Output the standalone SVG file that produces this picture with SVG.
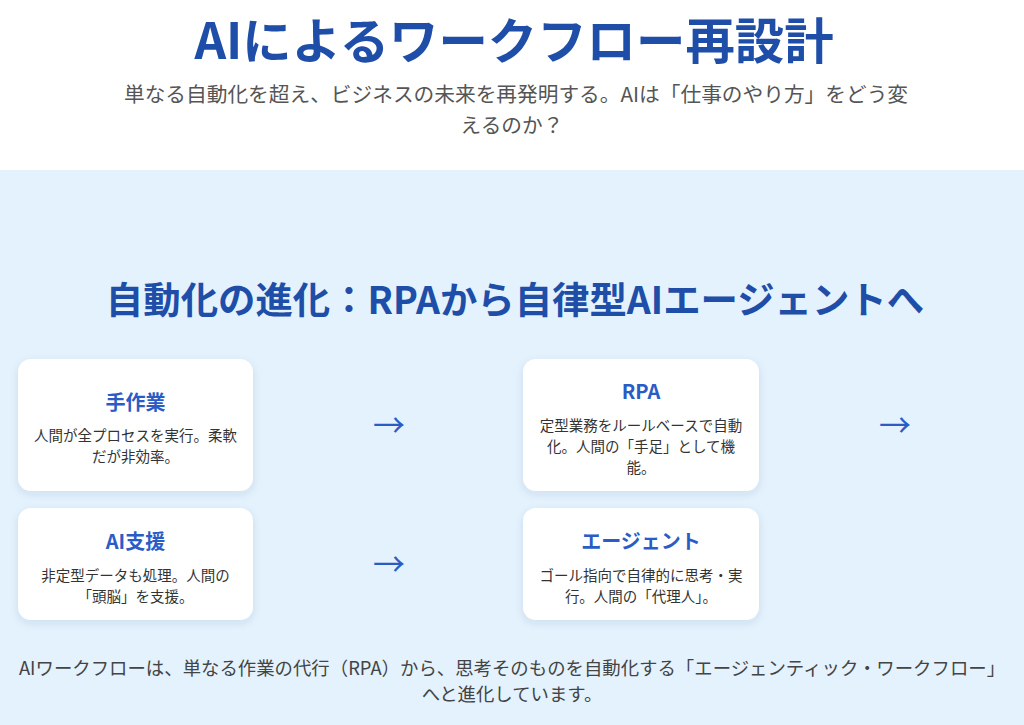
<svg xmlns="http://www.w3.org/2000/svg" width="1024" height="725" viewBox="0 0 1024 725">
  <defs>
    <filter id="shadow" x="-10%" y="-10%" width="120%" height="130%">
      <feDropShadow dx="0" dy="3" stdDeviation="4" flood-color="#1e3a6a" flood-opacity="0.10"/>
    </filter>
  </defs>
  <style>
    text { font-family: "Noto Sans CJK JP", "Noto Sans", sans-serif; text-anchor: middle; }
    .title { font-size: 49.4px; font-weight: 700; fill: #1e4ea8; }
    .sub { font-size: 20.7px; fill: #555555; }
    .sec { font-size: 37.4px; font-weight: 700; fill: #1e4ea8; }
    .card { fill: #ffffff; filter: url(#shadow); }
    .ct { font-size: 20px; font-weight: 700; fill: #2b5cc6; }
    .cd { font-size: 14.5px; fill: #333333; }
    .arrow { font-size: 32px; fill: #2b5cc6; }
    .foot { font-size: 18.4px; fill: #444444; }
  </style>
  <rect x="0" y="0" width="1024" height="170" fill="#ffffff"/>
  <rect x="0" y="170" width="1024" height="555" fill="#e3f2fd"/>

  <g id="header">
    <text class="title" x="514" y="59">AIによるワークフロー再設計</text>
    <text class="sub" x="516" y="102">単なる自動化を超え、ビジネスの未来を再発明する。AIは「仕事のやり方」をどう変</text>
    <text class="sub" x="512" y="133">えるのか？</text>
  </g>

  <g id="section-title">
    <text class="sec" x="515" y="314">自動化の進化：RPAから自律型AIエージェントへ</text>
  </g>

  <g id="node-manual">
    <rect class="card" x="18" y="359" width="235" height="132" rx="13"/>
    <text class="ct" x="135.5" y="410">手作業</text>
    <text class="cd" x="135.5" y="441">人間が全プロセスを実行。柔軟</text>
    <text class="cd" x="135.5" y="462">だが非効率。</text>
  </g>

  <g id="node-rpa">
    <rect class="card" x="523" y="359" width="236" height="132" rx="13"/>
    <text class="ct" x="641" y="399">RPA</text>
    <text class="cd" x="641" y="431">定型業務をルールベースで自動</text>
    <text class="cd" x="641" y="452">化。人間の「手足」として機</text>
    <text class="cd" x="641" y="473">能。</text>
  </g>

  <g id="node-ai-support">
    <rect class="card" x="18" y="508" width="235" height="112" rx="13"/>
    <text class="ct" x="135.5" y="549">AI支援</text>
    <text class="cd" x="135.5" y="581">非定型データも処理。人間の</text>
    <text class="cd" x="135.5" y="602">「頭脳」を支援。</text>
  </g>

  <g id="node-agent">
    <rect class="card" x="523" y="508" width="236" height="112" rx="13"/>
    <text class="ct" x="641" y="549">エージェント</text>
    <text class="cd" x="641" y="581">ゴール指向で自律的に思考・実</text>
    <text class="cd" x="641" y="602">行。人間の「代理人」。</text>
  </g>

  <g id="connectors">
    <text class="arrow" x="389" y="437">→</text>
    <text class="arrow" x="895" y="437">→</text>
    <text class="arrow" x="389" y="576">→</text>
  </g>

  <g id="footer">
    <text class="foot" x="512" y="675">AIワークフローは、単なる作業の代行（RPA）から、思考そのものを自動化する「エージェンティック・ワークフロー」</text>
    <text class="foot" x="512" y="701">へと進化しています。</text>
  </g>
</svg>
